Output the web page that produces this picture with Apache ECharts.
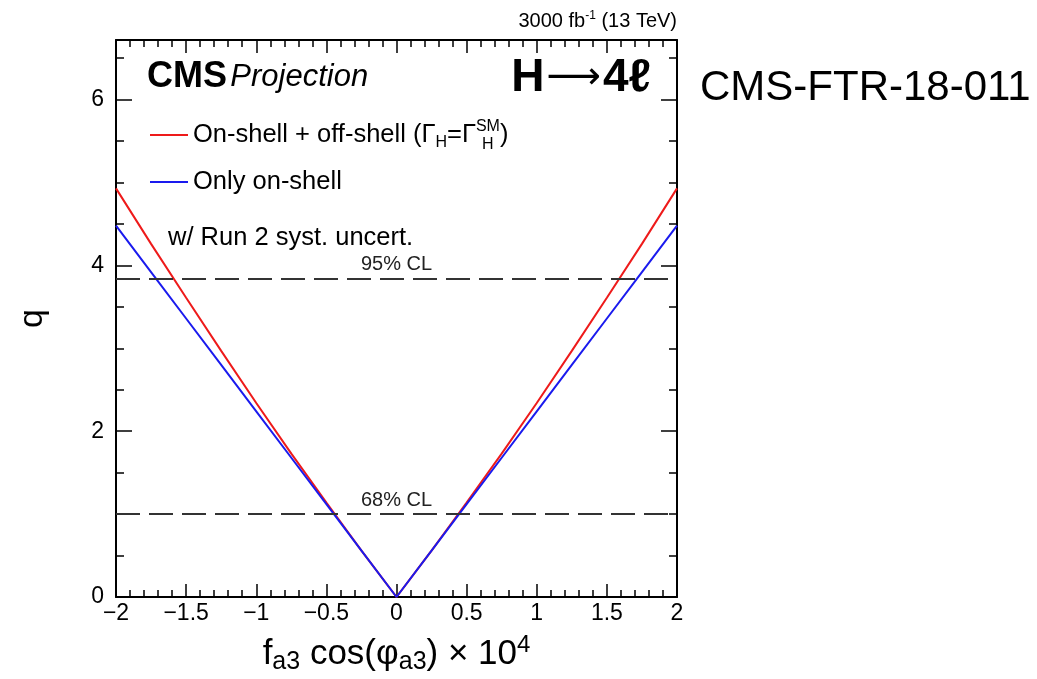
<!DOCTYPE html>
<html><head><meta charset="utf-8">
<script src="https://cdn.jsdelivr.net/npm/echarts@6/dist/echarts.min.js"></script>
<style>html,body{margin:0;padding:0;background:#fff}#c{width:1037px;height:679px}</style>
</head><body><div id="c"></div>
<script>
const xValues = [-2,-1.75,-1.5,-1.25,-1,-0.75,-0.5,-0.25,0,0.25,0.5,0.75,1,1.25,1.5,1.75,2];
const qOnOffShell = [4.93,4.26,3.61,2.97,2.34,1.73,1.14,0.56,0,0.56,1.14,1.73,2.34,2.97,3.61,4.26,4.93];
const qOnShell = [4.48,3.92,3.36,2.80,2.24,1.68,1.12,0.56,0,0.56,1.12,1.68,2.24,2.80,3.36,3.92,4.48];
const clLevels = [1.0, 3.84];
const clLabels = ['68% CL', '95% CL'];
const seriesNames = ['On-shell + off-shell', 'Only on-shell'];

const FONT = 'Liberation Sans';
const chart = echarts.init(document.getElementById('c'));
const zip = (xs, ys) => xs.map((x, i) => [x, ys[i]]);
const minus = v => String(v).replace('-', '\u2212');

const baseAxisLine = { show: true, onZero: false, lineStyle: { color: '#000', width: 2 } };
function xAx(pos, labels) {
  return {
    type: 'value', position: pos, min: -2, max: 2, interval: 0.5,
    axisLine: baseAxisLine,
    axisTick: { show: true, inside: true, length: 13, lineStyle: { color: '#000', width: 1.5 } },
    minorTick: { show: true, splitNumber: 5, length: 7, lineStyle: { color: '#000', width: 1.5 } },
    splitLine: { show: false }, minorSplitLine: { show: false },
    axisLabel: { show: labels, fontFamily: FONT, fontSize: 23, color: '#000', margin: 5, formatter: minus },
    name: labels ? '{n|f}{s|a3}{n| cos(\u03C6}{s|a3}{n|) \u00D7 10}{p|4}' : '',
    nameLocation: 'middle', nameGap: 36,
    nameTextStyle: {
      fontFamily: FONT, color: '#000',
      rich: {
        n: { fontFamily: FONT, fontSize: 35, lineHeight: 42, color: '#000' },
        s: { fontFamily: FONT, fontSize: 25, lineHeight: 25, verticalAlign: 'bottom', color: '#000' },
        p: { fontFamily: FONT, fontSize: 24, lineHeight: 24, verticalAlign: 'top', color: '#000' }
      }
    }
  };
}
function yAx(pos, labels) {
  return {
    type: 'value', position: pos, min: 0, max: 6.72, interval: 2,
    axisLine: baseAxisLine,
    axisTick: { show: true, inside: true, length: 16, lineStyle: { color: '#000', width: 1.5 } },
    minorTick: { show: true, splitNumber: 4, length: 8, lineStyle: { color: '#000', width: 1.5 } },
    splitLine: { show: false }, minorSplitLine: { show: false },
    axisLabel: { show: labels, fontFamily: FONT, fontSize: 23, color: '#000', margin: 12, showMaxLabel: false },
    name: labels ? 'q' : '', nameLocation: 'middle', nameGap: 66,
    nameTextStyle: { fontFamily: FONT, fontSize: 34, color: '#000' }
  };
}

const legendRich = {
  n: { fontFamily: FONT, fontSize: 25.5, lineHeight: 32, color: '#000' },
  s: { fontFamily: FONT, fontSize: 16, lineHeight: 16, verticalAlign: 'bottom', color: '#000' },
  p: { fontFamily: FONT, fontSize: 16, lineHeight: 16, verticalAlign: 'top', color: '#000' }
};
function legend(name, top, fmt) {
  return {
    data: [name], left: 150, top: top, padding: 0, icon: 'rect', itemWidth: 38, itemHeight: 2,
    itemGap: 0, selectedMode: false,
    textStyle: { fontFamily: FONT, fontSize: 25.5, color: '#000', padding: [0, 0, 0, 0], rich: legendRich },
    formatter: fmt
  };
}

chart.setOption({
  animation: false,
  backgroundColor: '#fff',
  grid: { left: 116, right: 360, top: 40, bottom: 82, containLabel: false, outerBoundsMode: 'none' },
  xAxis: [xAx('bottom', true), xAx('top', false)],
  yAxis: [yAx('left', true), yAx('right', false)],
  legend: [
    legend(seriesNames[0], 119, () => '{n|On-shell + off-shell (\u0393}{s|H}{n|=\u0393}{p|SM}{n|)}'),
    legend(seriesNames[1], 169, () => '{n|Only on-shell}')
  ],
  series: [
    {
      name: 'CL', type: 'line', data: [], silent: true,
      markLine: {
        silent: true, symbol: 'none', animation: false,
        lineStyle: { color: '#333', width: 2, type: [24, 9] },
        label: { position: 'insideMiddleTop', fontFamily: FONT, fontSize: 20, color: '#222', distance: 4 },
        data: clLevels.map((v, i) => ({ yAxis: v, label: { formatter: clLabels[i] } }))
      }
    },
    {
      name: seriesNames[1], type: 'line', data: zip(xValues, qOnShell), showSymbol: false,
      color: '#1a1aee', lineStyle: { color: '#1a1aee', width: 2 }, z: 3
    },
    {
      name: seriesNames[0], type: 'line', data: zip(xValues, qOnOffShell), showSymbol: false,
      color: '#ee1a1a', lineStyle: { color: '#ee1a1a', width: 2 }, z: 2
    }
  ],
  graphic: [
    { type: 'text', x: 677, y: 21, style: {
        text: '{n|3000 fb}{p|-1}{n| (13 TeV)}', align: 'right', verticalAlign: 'middle',
        rich: {
          n: { fontFamily: FONT, fontSize: 20, lineHeight: 22, color: '#000' },
          p: { fontFamily: FONT, fontSize: 12, lineHeight: 12, verticalAlign: 'top', color: '#000' }
        } } },
    { type: 'text', x: 147, y: 77, style: {
        text: '{b|CMS} {i|Projection}', verticalAlign: 'middle',
        rich: {
          b: { fontFamily: FONT, fontSize: 36, fontWeight: 'bold', color: '#000' },
          i: { fontFamily: FONT, fontSize: 31, fontStyle: 'italic', color: '#000' }
        } } },
    { type: 'text', x: 651, y: 78, style: {
        text: '{b|H}{a|\u27F6}{b|4\u2113}', align: 'right', verticalAlign: 'middle',
        rich: {
          b: { fontFamily: FONT, fontSize: 46, fontWeight: 'bold', color: '#000' },
          a: { fontFamily: 'DejaVu Sans', fontSize: 38, color: '#000', padding: [0, 2, 0, 2] }
        } } },
    { type: 'text', x: 700, y: 88, style: {
        text: 'CMS-FTR-18-011', verticalAlign: 'middle',
        font: '42px "Liberation Sans"', fill: '#000' } },
    { type: 'text', x: 482, y: 145, style: {
        text: 'H', verticalAlign: 'middle',
        font: '16px "Liberation Sans"', fill: '#000' } },
    { type: 'text', x: 168, y: 238, style: {
        text: 'w/ Run 2 syst. uncert.', verticalAlign: 'middle',
        font: '25.5px "Liberation Sans"', fill: '#000' } }
  ]
});
</script></body></html>
